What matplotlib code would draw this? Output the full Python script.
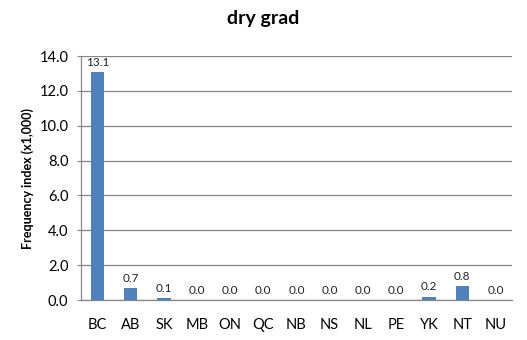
import matplotlib
matplotlib.use("Agg")
from matplotlib import pyplot as plt

provinces = ["BC", "AB", "SK", "MB", "ON", "QC", "NB", "NS", "NL", "PE", "YK", "NT", "NU"]
values = [13.1, 0.7, 0.1, 0.0, 0.0, 0.0, 0.0, 0.0, 0.0, 0.0, 0.2, 0.8, 0.0]
yticks = [0, 2, 4, 6, 8, 10, 12, 14]

def main():
    plt.rcParams["font.family"] = ["Lato", "DejaVu Sans"]
    fig = plt.figure(figsize=(5.27, 3.40), dpi=100)
    ax = fig.add_axes([0.1537, 0.1176, 0.8178, 0.7176])
    x = range(len(provinces))
    bars = ax.bar(x, values, width=0.4, color="#4F81BD", zorder=3)
    for b, v in zip(bars, values):
        ax.annotate(f"{v:.1f}", (b.get_x() + b.get_width() / 2, b.get_height()),
                    xytext=(0, 3), textcoords="offset points",
                    ha="center", va="bottom", fontsize=8.5, color="#222222")
    ax.set_xlim(-0.5, len(provinces) - 0.5)
    ax.set_ylim(0, 14)
    ax.set_yticks(yticks)
    ax.set_yticklabels([f"{t:.1f}" for t in yticks], fontsize=10.5)
    ax.set_xticks(list(x))
    ax.set_xticklabels(provinces, fontsize=10.5)
    ax.tick_params(axis="x", length=0, pad=13)
    ax.tick_params(axis="y", length=3, color="#868686", pad=6)
    ax.grid(axis="y", color="#868686", linewidth=0.9, zorder=0)
    for s in ["top", "right"]:
        ax.spines[s].set_visible(False)
    for s in ["left", "bottom"]:
        ax.spines[s].set_color("#868686")
        ax.spines[s].set_linewidth(0.9)
    ax.set_ylabel("Frequency index (x1,000)", fontsize=9, fontweight="bold", labelpad=4)
    fig.suptitle("dry grad", fontsize=14, fontweight="bold", y=0.97)
    fig.savefig("out.png", dpi=100)

if __name__ == "__main__":
    main()
